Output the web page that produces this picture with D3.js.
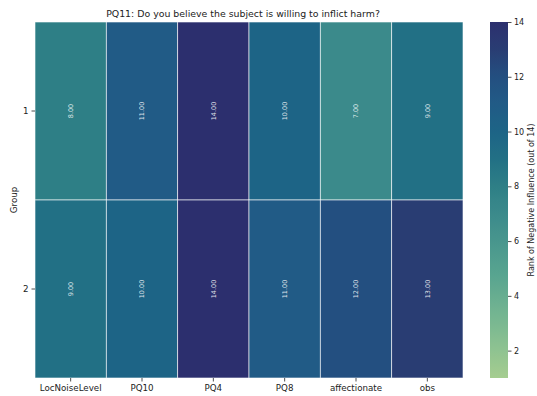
<!DOCTYPE html>
<html>
<head>
<meta charset="utf-8">
<script src="https://cdn.jsdelivr.net/npm/d3@7"></script>
<style>
  html, body { margin: 0; padding: 0; background: #fff; }
  svg text { font-family: "DejaVu Sans", sans-serif; fill: #222; }
</style>
</head>
<body>
<svg id="chart" width="537" height="396"></svg>
<script>
// Heatmap data: rank of negative influence per feature and group
const features = ["LocNoiseLevel", "PQ10", "PQ4", "PQ8", "affectionate", "obs"];
const groups = ["1", "2"];
const group1 = [8, 11, 14, 10, 7, 9];
const group2 = [9, 10, 14, 11, 12, 13];
const colorTicks = [2, 4, 6, 8, 10, 12, 14];
const titleText = "PQ11: Do you believe the subject is willing to inflict harm?";
const colorLabel = "Rank of Negative Influence (out of 14)";

// "crest" palette: positions along the 1–14 rank range and their colours
const crestPos = [1, 2.86, 4.71, 7, 8, 9, 10, 11, 12, 13, 14];
const crestCol = ["#a5cd90", "#7dba91", "#59a590", "#3b8a8b", "#2e7f86", "#227085",
                  "#1d6486", "#215b86", "#234f80", "#293d73", "#2c2f6e"];

const cells = [];
[group1, group2].forEach((vals, gi) => {
  vals.forEach((v, fi) => cells.push({ group: groups[gi], feature: features[fi], value: v }));
});

const svg = d3.select("#chart");
const plot = { left: 35, right: 463, top: 22, bottom: 378 };

const x = d3.scaleBand().domain(features).range([plot.left, plot.right]);
const y = d3.scaleBand().domain(groups).range([plot.top, plot.bottom]);
const color = d3.scaleLinear().domain(crestPos).range(crestCol)
  .interpolate(d3.interpolateRgb).clamp(true);

// cells
svg.append("g").selectAll("rect").data(cells).join("rect")
  .attr("x", d => x(d.feature))
  .attr("y", d => y(d.group))
  .attr("width", x.bandwidth())
  .attr("height", y.bandwidth())
  .attr("fill", d => color(d.value))
  .attr("stroke", "rgba(255,255,255,0.75)")
  .attr("stroke-width", 0.8);

// annotations, rotated
svg.append("g").selectAll("text").data(cells).join("text")
  .attr("transform", d => `translate(${x(d.feature) + x.bandwidth() / 2},${y(d.group) + y.bandwidth() / 2}) rotate(-90)`)
  .attr("text-anchor", "middle")
  .attr("dy", "0.35em")
  .style("font-size", "6.5px")
  .style("fill", "rgba(255,255,255,0.85)")
  .text(d => d.value.toFixed(2));

// x axis
const xAxis = svg.append("g").attr("transform", `translate(0,${plot.bottom})`)
  .call(d3.axisBottom(x).tickSize(3.5).tickPadding(3));
xAxis.select(".domain").remove();
xAxis.selectAll("line").attr("stroke", "#222").attr("stroke-width", 0.8);
xAxis.selectAll("text").style("font-size", "8.7px").style("font-family", "DejaVu Sans").attr("fill", "#222");

// y axis
const yAxis = svg.append("g").attr("transform", `translate(${plot.left},0)`)
  .call(d3.axisLeft(y).tickSize(3.5).tickPadding(3));
yAxis.select(".domain").remove();
yAxis.selectAll("line").attr("stroke", "#222").attr("stroke-width", 0.8);
yAxis.selectAll("text").style("font-size", "8.7px").style("font-family", "DejaVu Sans").attr("fill", "#222");

svg.append("text")
  .attr("transform", `translate(17,${(plot.top + plot.bottom) / 2}) rotate(-90)`)
  .attr("text-anchor", "middle")
  .style("font-size", "8.7px")
  .text("Group");

// title
svg.append("text")
  .attr("x", 243).attr("y", 17)
  .attr("text-anchor", "middle")
  .style("font-size", "9.4px")
  .text(titleText);

// colorbar
const cb = { x: 490, width: 18, top: 22, bottom: 378 };
const cy = d3.scaleLinear().domain([1, 14]).range([cb.bottom, cb.top]);
const defs = svg.append("defs");
const grad = defs.append("linearGradient").attr("id", "crestGrad")
  .attr("x1", 0).attr("y1", 1).attr("x2", 0).attr("y2", 0);
d3.range(1, 14.0001, 0.25).forEach(v => {
  grad.append("stop").attr("offset", (v - 1) / 13).attr("stop-color", color(v));
});
svg.append("rect")
  .attr("x", cb.x).attr("y", cb.top)
  .attr("width", cb.width).attr("height", cb.bottom - cb.top)
  .attr("fill", "url(#crestGrad)");

const cAxis = svg.append("g").attr("transform", `translate(${cb.x + cb.width},0)`)
  .call(d3.axisRight(cy).tickValues(colorTicks).tickSize(3.5).tickPadding(2.5).tickFormat(d3.format("d")));
cAxis.select(".domain").remove();
cAxis.selectAll("line").attr("stroke", "#222").attr("stroke-width", 0.8);
cAxis.selectAll("text").style("font-size", "8px").style("font-family", "DejaVu Sans").attr("fill", "#222");

svg.append("text")
  .attr("transform", `translate(534,200) rotate(-90)`)
  .attr("text-anchor", "middle")
  .style("font-size", "8px")
  .text(colorLabel);
</script>
</body>
</html>
